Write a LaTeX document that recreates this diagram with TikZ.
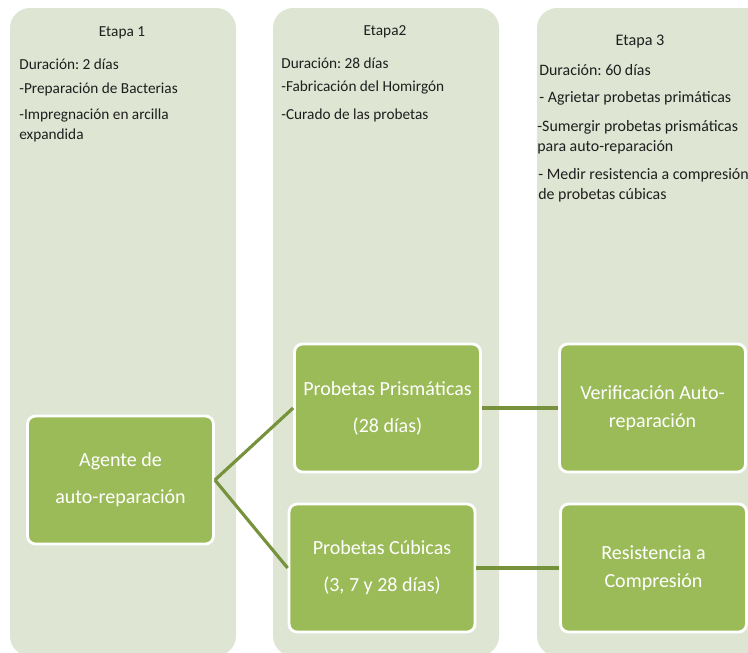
\documentclass[tikz,border=0pt]{standalone}
\usepackage{fontspec}
\setmainfont{Carlito}
\frenchspacing
\definecolor{panelgreen}{RGB}{222,229,211}
\definecolor{boxgreen}{RGB}{155,187,89}
\definecolor{linegreen}{RGB}{118,146,60}
\definecolor{textgray}{RGB}{30,30,30}
\begin{document}
\begin{tikzpicture}[x=0.02cm, y=-0.02cm,
  panel/.style={fill=panelgreen, rounded corners=0.4cm},
  stagetext/.style={text=textgray, inner sep=0pt, font=\fontsize{8.7}{11.3}\selectfont},
  itemtext/.style={stagetext, anchor=west, align=left},
  bigtext/.style={text=textgray, inner sep=0pt, anchor=west, align=left, font=\fontsize{9.05}{11.3}\selectfont},
  boxnode/.style={draw=white, line width=1.6pt, fill=boxgreen, rounded corners=0.16cm, text=white, align=center, inner sep=0pt, minimum width=3.72cm, minimum height=2.56cm, font=\fontsize{11.4}{21}\selectfont},
  tightbox/.style={boxnode, font=\fontsize{11.4}{16}\selectfont},
  link/.style={draw=linegreen, line width=1.8pt}]
\useasboundingbox (0,0) rectangle (748,653);
\clip (0,0) rectangle (748,653);
\fill[panel] (10,8) rectangle (236,656);
\fill[panel] (273,8) rectangle (499,656);
\fill[panel] (537,8) rectangle (790,656);

\node[stagetext] (t1) at (122,33) {Etapa 1};
\node[itemtext] (d1) at (19,64) {Duración: 2 días};
\node[itemtext] (a1) at (19,89) {-Preparación de Bacterias};
\node[itemtext] (b1) at (19,125) {-Impregnación en arcilla\\expandida};

\node[stagetext] (t2) at (385,32) {Etapa2};
\node[itemtext] (d2) at (281,63) {Duración: 28 días};
\node[itemtext] (a2) at (281,88) {-Fabricación del Homirgón};
\node[itemtext] (b2) at (281,115) {-Curado de las probetas};

\node[stagetext, font=\fontsize{9.2}{11.3}\selectfont] (t3) at (640,42) {Etapa 3};
\node[bigtext] (d3) at (539,70) {Duración: 60 días};
\node[bigtext] (a3) at (539,98) {- Agrietar probetas primáticas};
\node[bigtext] (b3) at (537,137) {-Sumergir probetas prismáticas\\para auto-reparación};
\node[bigtext] (c3) at (538,185) {- Medir resistencia a compresión\\de probetas cúbicas};

\node[boxnode] (agente) at (120.5,480) {Agente de\\auto-reparación};
\node[boxnode] (prism) at (387.5,408) {Probetas Prismáticas\\(28 días)};
\node[boxnode] (cubic) at (382,568) {Probetas Cúbicas\\(3, 7 y 28 días)};
\node[tightbox] (verif) at (652.5,408) {Verificación Auto-\\reparación};
\node[tightbox] (resist) at (653.5,568) {Resistencia a\\Compresión};

\draw[link] (agente.east) -- (prism.west);
\draw[link] (agente.east) -- (cubic.west);
\draw[link] (prism.east) -- (verif.west);
\draw[link] (cubic.east) -- (resist.west);
\end{tikzpicture}
\end{document}
